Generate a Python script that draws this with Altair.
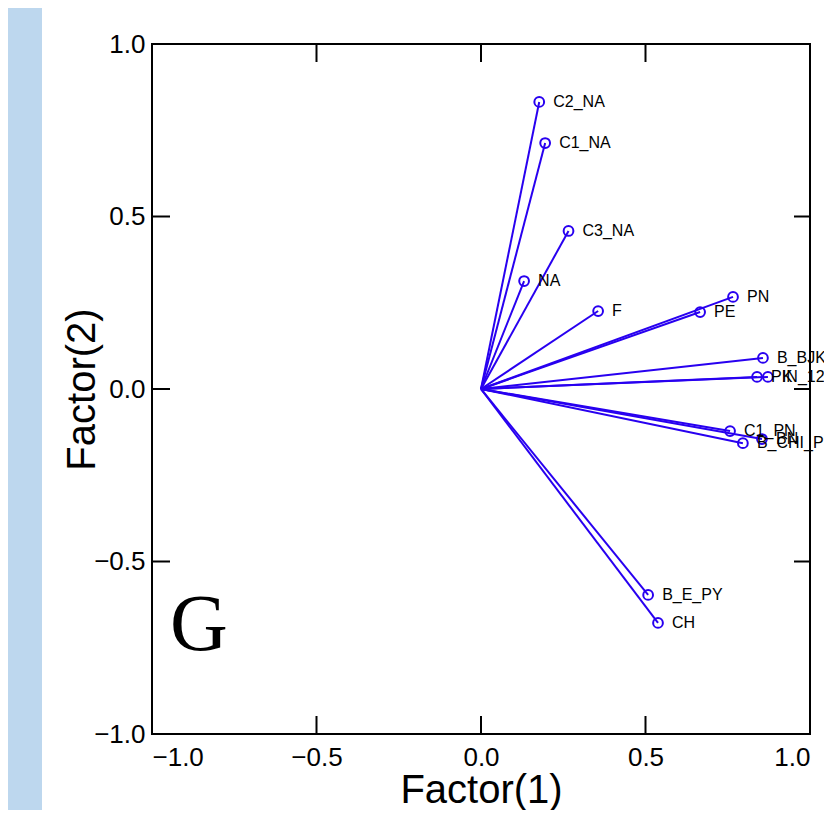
import altair as alt
import pandas as pd

labels = ["C2_NA", "C1_NA", "C3_NA", "NA", "F", "PE", "PN", "B_BJK_PE",
          "PK", "IN_123", "C1_PN", "BN", "B_CHI_PE", "B_E_PY", "CH"]
factor1 = [0.177, 0.195, 0.266, 0.131, 0.356, 0.666, 0.766, 0.857,
           0.839, 0.872, 0.757, 0.854, 0.796, 0.508, 0.538]
factor2 = [0.832, 0.713, 0.458, 0.313, 0.226, 0.223, 0.267, 0.090,
           0.035, 0.035, -0.122, -0.145, -0.157, -0.597, -0.678]
tick_values = [-1.0, -0.5, 0.0, 0.5, 1.0]
panel_letter = ["G"]

W, H = 658, 690
BLUE = "#2800f0"

pts = pd.DataFrame({"label": labels, "f1": factor1, "f2": factor2})
pts["o1"] = 0.0
pts["o2"] = 0.0
ticks = pd.DataFrame({"t": tick_values})

xs = alt.Scale(domain=[-1, 1], nice=False, zero=False)
ys = alt.Scale(domain=[-1, 1], nice=False, zero=False)

x_axis = alt.Axis(values=tick_values, format=".1f", labelFontSize=26, tickSize=0,
                  domain=False, grid=False, labelPadding=10, labelColor="black",
                  title="Factor(1)", titleFontSize=40, titleFontWeight="normal",
                  titleColor="black", titleX=W / 2, titleY=56, titleBaseline="middle",
                  titleAlign="center")
y_axis = alt.Axis(values=tick_values, format=".1f", labelFontSize=26, tickSize=0,
                  domain=False, grid=False, labelPadding=7, labelColor="black",
                  title="Factor(2)", titleFontSize=40, titleFontWeight="normal",
                  titleColor="black", titleAngle=-90, titleX=-70, titleY=H / 2,
                  titleBaseline="middle", titleAlign="center")

strip = alt.Chart(pd.DataFrame({"a": [0]})).mark_rect(color="#bdd7ee").encode(
    x=alt.value(-144), x2=alt.value(-110), y=alt.value(-40), y2=alt.value(H + 120)
)

rays = alt.Chart(pts).mark_rule(color=BLUE, strokeWidth=2).encode(
    x=alt.X("o1:Q", scale=xs, axis=x_axis),
    y=alt.Y("o2:Q", scale=ys, axis=y_axis),
    x2="f1:Q",
    y2="f2:Q",
)

points = alt.Chart(pts).mark_point(shape="circle", filled=False, color=BLUE,
                                   size=95, strokeWidth=2, opacity=1).encode(
    x=alt.X("f1:Q", scale=xs), y=alt.Y("f2:Q", scale=ys)
)

text = alt.Chart(pts).mark_text(align="left", baseline="middle", dx=14,
                                fontSize=16, color="black").encode(
    x=alt.X("f1:Q", scale=xs), y=alt.Y("f2:Q", scale=ys), text="label:N"
)

bottom_ticks = alt.Chart(ticks).mark_rule(color="black", strokeWidth=2).encode(
    x=alt.X("t:Q", scale=xs), y=alt.value(H), y2=alt.value(H - 18)
)
top_ticks = alt.Chart(ticks).mark_rule(color="black", strokeWidth=2).encode(
    x=alt.X("t:Q", scale=xs), y=alt.value(0), y2=alt.value(18)
)
left_ticks = alt.Chart(ticks).mark_rule(color="black", strokeWidth=2).encode(
    y=alt.Y("t:Q", scale=ys), x=alt.value(0), x2=alt.value(18)
)
right_ticks = alt.Chart(ticks).mark_rule(color="black", strokeWidth=2).encode(
    y=alt.Y("t:Q", scale=ys), x=alt.value(W), x2=alt.value(W - 16)
)

letter = alt.Chart(pd.DataFrame({"g": panel_letter})).mark_text(
    align="left", baseline="alphabetic", font="Liberation Serif", fontSize=80,
    color="black").encode(x=alt.value(18), y=alt.value(606), text="g:N")

chart = alt.layer(strip, rays, points, text, bottom_ticks, top_ticks, left_ticks,
                  right_ticks, letter).properties(
    width=W, height=H,
    autosize=alt.AutoSizeParams(type="none"),
    padding={"left": 144, "top": 36, "right": 14, "bottom": 76},
).configure(font="Liberation Sans").configure_view(stroke="black", strokeWidth=2)

chart.save("out.html", embed_options={"renderer": "svg", "actions": False})
